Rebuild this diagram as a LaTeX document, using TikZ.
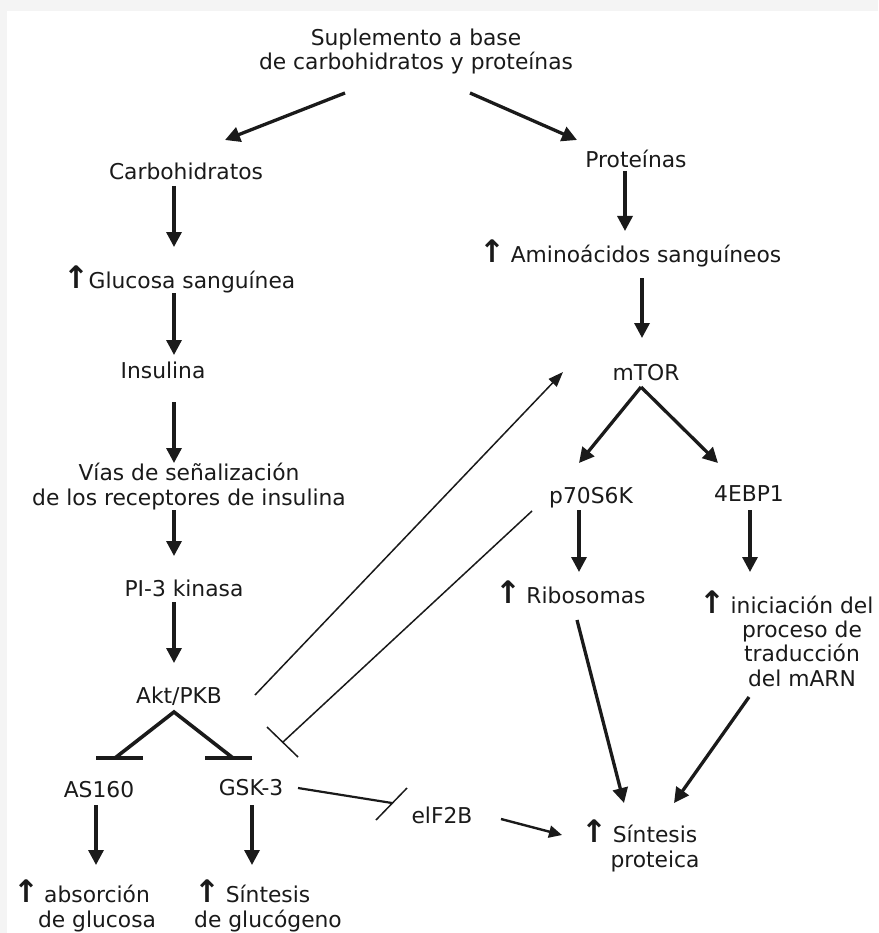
\documentclass[tikz,border=0pt]{standalone}
\usepackage{fontspec}
\setmainfont{DejaVu Sans}
\usetikzlibrary{arrows.meta}
\definecolor{bggray}{HTML}{F4F4F4}
\definecolor{ink}{HTML}{1A1A1A}
\begin{document}
\begin{tikzpicture}[x=1pt,y=-1pt,
  lbl/.style={anchor=base,inner sep=0pt,align=center,text=ink,
    font=\fontsize{21.8pt}{24.3pt}\selectfont},
  arr/.style={draw=ink,line width=3.3pt,-{Triangle[length=15pt,width=15pt]}},
  thinarr/.style={draw=ink,line width=1.5pt,-{Triangle[length=15pt,width=11pt]}},
  midarr/.style={draw=ink,line width=2.4pt,-{Triangle[length=13pt,width=12pt]}},
  thickline/.style={draw=ink,line width=3.6pt},
  thinline/.style={draw=ink,line width=1.5pt},
  midline/.style={draw=ink,line width=2.2pt}]
\useasboundingbox (0,0) rectangle (878,933);
\fill[bggray] (0,0) rectangle (878,933);
\fill[white] (7,11) rectangle (878,933);
\newcommand{\up}{{\fontsize{31pt}{31pt}\selectfont\textbf{↑}}}
% nodes
\node[lbl] (title) at (416,70) {Suplemento a base\\de carbohidratos y proteínas};
\node[lbl] (carb) at (186,180) {Carbohidratos};
\node[lbl] (prot) at (636,168) {Proteínas};
\node[lbl] (gluc) at (192,288) {\llap{\up\kern-1pt}Glucosa sanguínea};
\node[lbl] (amino) at (646,262) {\llap{\up\kern5pt}Aminoácidos sanguíneos};
\node[lbl] (insul) at (163,378) {Insulina};
\node[lbl] (vias) at (189,505) {Vías de señalización\\de los receptores de insulina};
\node[lbl] (pi3) at (184,596) {PI-3 kinasa};
\node[lbl] (akt) at (179,703) {Akt/PKB};
\node[lbl] (as160) at (99,797) {AS160};
\node[lbl] (gsk) at (251,795) {GSK-3};
\node[lbl] (absor) at (97,927) {\llap{\up\kern5pt}absorción\\de glucosa};
\node[lbl] (sintg) at (268,927) {\llap{\up\kern5pt}Síntesis\\de glucógeno};
\node[lbl] (eif) at (442,823) {elF2B};
\node[lbl] (sintp) at (655,867) {\llap{\up\kern5pt}Síntesis\\proteica};
\node[lbl] (mtor) at (646,380) {mTOR};
\node[lbl] (p70) at (591,503) {p70S6K};
\node[lbl] (ebp) at (749,501) {4EBP1};
\node[lbl] (ribo) at (586,603) {\llap{\up\kern5pt}Ribosomas};
\node[lbl] (inic) at (802,686) {\llap{\up\kern5pt}iniciación del\\proceso de\\traducción\\del mARN};
% connectors
\draw[arr] ([shift={(-71,23)}]title.base) -- ([shift={(39,-40)}]carb.base);
\draw[arr] ([shift={(54,23)}]title.base) -- ([shift={(-59,-28)}]prot.base);
\draw[arr] ([shift={(-12,6)}]carb.base) -- ([shift={(-18,-41)}]gluc.base);
\draw[arr] ([shift={(-11,3)}]prot.base) -- ([shift={(-21,-31)}]amino.base);
\draw[arr] ([shift={(-18,5)}]gluc.base) -- ([shift={(11,-23)}]insul.base);
\draw[arr] ([shift={(11,24)}]insul.base) -- ([shift={(-15,-42)}]vias.base);
\draw[arr] ([shift={(-15,5)}]vias.base) -- ([shift={(-10,-40)}]pi3.base);
\draw[arr] ([shift={(-10,6)}]pi3.base) -- ([shift={(-5,-40)}]akt.base);
\draw[arr] ([shift={(-4,16)}]amino.base) -- ([shift={(-4,-42)}]mtor.base);
\draw[arr] ([shift={(-5,7)}]mtor.base) -- ([shift={(-12,-40)}]p70.base);
\draw[arr] ([shift={(-5,7)}]mtor.base) -- ([shift={(-31,-38)}]ebp.base);
\draw[arr] ([shift={(-12,7)}]p70.base) -- ([shift={(-7,-31)}]ribo.base);
\draw[arr] ([shift={(1,9)}]ebp.base) -- ([shift={(-52,-114)}]inic.base);
\draw[arr] ([shift={(-9,17)}]ribo.base) -- ([shift={(-31,-64)}]sintp.base);
\draw[arr] ([shift={(-53,11)}]inic.base) -- ([shift={(19,-64)}]sintp.base);
\draw[arr] ([shift={(-3,8)}]as160.base) -- ([shift={(-1,-62)}]absor.base);
\draw[arr] ([shift={(1,10)}]gsk.base) -- ([shift={(-16,-62)}]sintg.base);
% Akt -> mTOR (thin)
\draw[thinarr] ([shift={(76,-8)}]akt.base) -- ([shift={(-83,-8)}]mtor.base);
% p70S6K -| Akt (thin inhibition)
\draw[thinline] ([shift={(-59,8)}]p70.base) -- ([shift={(104,39)}]akt.base);
\draw[thinline] ([shift={(88,24)}]akt.base) -- ([shift={(119,54)}]akt.base);
% Akt -| AS160 and GSK-3
\draw[thickline,line join=miter] ([shift={(16,-39)}]as160.base) -- ([shift={(-5,9)}]akt.base) -- ([shift={(-18,-37)}]gsk.base);
\draw[thickline] ([shift={(-3,-39)}]as160.base) -- ([shift={(44,-39)}]as160.base);
\draw[thickline] ([shift={(-46,-37)}]gsk.base) -- ([shift={(1,-37)}]gsk.base);
% GSK-3 -| eIF2B
\draw[midline] ([shift={(47,-7)}]gsk.base) -- ([shift={(-50,-20)}]eif.base);
\draw[thinline] ([shift={(-35,-35)}]eif.base) -- ([shift={(-66,-3)}]eif.base);
% eIF2B -> Sintesis proteica
\draw[midarr] ([shift={(59,-4)}]eif.base) -- ([shift={(-93,-32)}]sintp.base);
\end{tikzpicture}
\end{document}
